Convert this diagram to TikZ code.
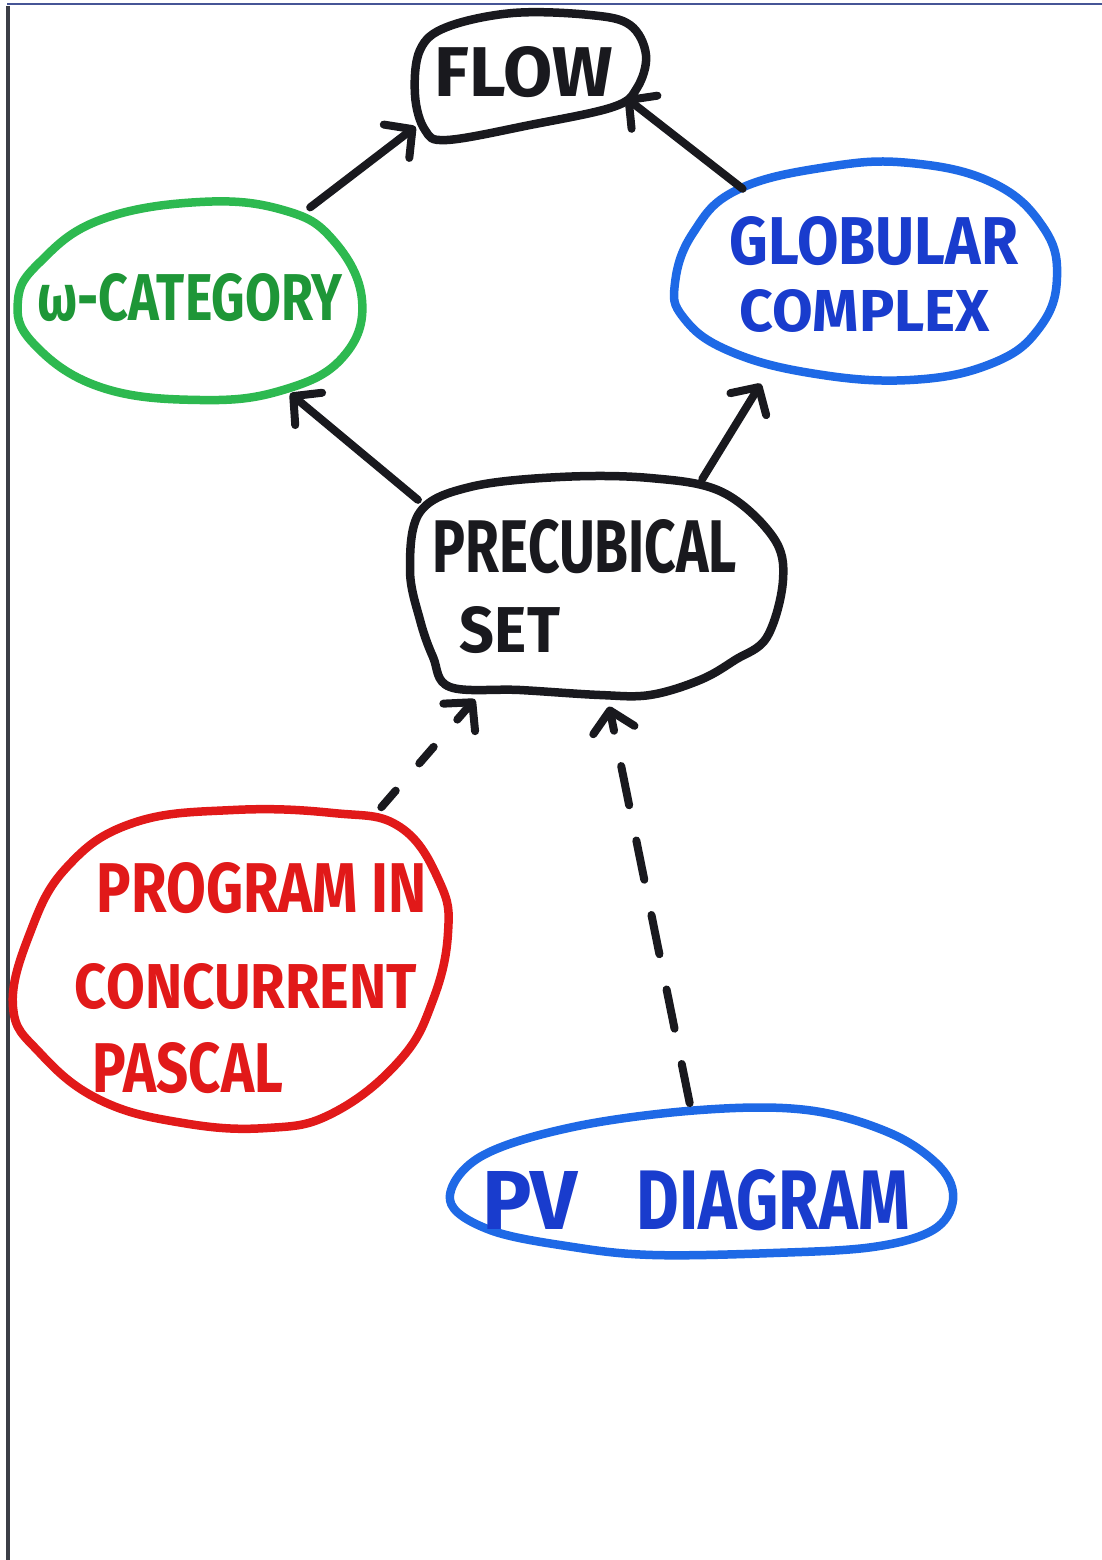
\documentclass[tikz,border=0pt]{standalone}
\usepackage{fontspec}
\setmainfont{Fira Sans}
\usetikzlibrary{arrows.meta,shapes.geometric}
\definecolor{ink}{RGB}{25,25,30}
\definecolor{gline}{RGB}{45,185,80}
\definecolor{gtext}{RGB}{30,150,55}
\definecolor{bline}{RGB}{30,105,230}
\definecolor{btext}{RGB}{25,60,205}
\definecolor{rline}{RGB}{225,25,25}
\definecolor{scanedge}{RGB}{60,62,70}
\definecolor{scantop}{RGB}{70,85,150}
\newcommand{\hw}[3]{\resizebox{#1pt}{#2pt}{\bfseries #3}}
\begin{document}
\begin{tikzpicture}[x=1pt,y=-1pt,
  holder/.style={ellipse,inner sep=0pt,outer sep=0pt,draw=none},
  blob/.style={line width=8.5pt,line join=round},
  lbl/.style={inner sep=0pt,outer sep=0pt},
  arr/.style={ink,line width=8pt,line cap=round,
    -{Straight Barb[length=20pt,width=42pt,round]}},
  dashA/.style={dash pattern=on 22pt off 36pt},
  dashB/.style={dash pattern=on 40pt off 36pt}]
\useasboundingbox (0,0) rectangle (1102,1560);
\fill[white] (0,0) rectangle (1102,1560);
% scan edges
\draw[line width=4pt, scanedge] (7.5,6) -- (7.5,1560);
\draw[line width=2pt, scantop] (7,4) -- (1102,4);

% shape holders (named nodes)
\node[holder, minimum width=232pt, minimum height=126pt] (flow) at (531,77) {};
\node[holder, minimum width=344pt, minimum height=200pt] (omega) at (190,301) {};
\node[holder, minimum width=382pt, minimum height=218pt] (glob) at (866,272) {};
\node[holder, minimum width=376pt, minimum height=212pt] (pre) at (595,586) {};
\node[holder, minimum width=438pt, minimum height=322pt] (prog) at (229,968) {};
\node[holder, minimum width=504pt, minimum height=150pt] (pv) at (701,1182) {};

% outlines
\draw[blob, ink] plot[smooth cycle, tension=0.6] coordinates {
  (420,50) (447,27) (513,13) (590,15) (630,25) (646,55) (637,88)
  (613,107) (530,125) (447,140) (425,130) (415,95)};
\draw[blob, gline] plot[smooth cycle, tension=0.7] coordinates {
  (18,300) (40,262) (100,220) (200,202) (283,210) (333,240) (362,300)
  (343,357) (283,390) (200,400) (100,387) (33,343)};
\draw[blob, bline] plot[smooth cycle, tension=0.7] coordinates {
  (675,283) (693,233) (737,190) (827,167) (910,163) (993,183) (1043,227)
  (1057,277) (1040,327) (993,363) (910,380) (810,373) (727,350) (683,317)};
\draw[blob, ink] plot[smooth cycle, tension=0.6] coordinates {
  (410,570) (420,512) (470,487) (560,477) (650,478) (722,492) (773,537)
  (783,580) (767,637) (735,660) (700,680) (650,695) (600,695) (520,690)
  (450,687) (433,657) (420,620)};
\draw[blob, rline] plot[smooth cycle, tension=0.7] coordinates {
  (233,810) (333,813) (400,827) (440,883) (448,933) (433,1000) (400,1060)
  (333,1113) (267,1128) (183,1123) (100,1100) (40,1053) (13,1007)
  (30,933) (67,867) (133,823)};
\draw[blob, bline] plot[smooth cycle, tension=0.6] coordinates {
  (450,1200) (480,1157) (573,1127) (700,1110) (807,1110) (890,1133)
  (940,1167) (953,1200) (933,1230) (873,1247) (773,1253) (653,1255)
  (573,1247) (490,1230)};

% labels
\node[lbl, ink] (tflow) at (524,72) {\hw{178}{50}{FLOW}};
\node[lbl, gtext] (tomega) at (190,298) {\hw{305}{47}{ω-CATEGORY}};
\node[lbl, btext] (tglob1) at (874,241) {\hw{288}{48}{GLOBULAR}};
\node[lbl, btext] (tglob2) at (865,311) {\hw{250}{42}{COMPLEX}};
\node[lbl, ink] (tpre1) at (585,547) {\hw{304}{53}{PRECUBICAL}};
\node[lbl, ink] (tpre2) at (510,630) {\hw{100}{46}{SET}};
\node[lbl, rline] (tprog1) at (262,888) {\hw{330}{50}{PROGRAM IN}};
\node[lbl, rline] (tprog2) at (246,987) {\hw{342}{45}{CONCURRENT}};
\node[lbl, rline] (tprog3) at (188,1068) {\hw{190}{50}{PASCAL}};
\node[lbl, btext] (tpv) at (696,1200) {\hw{95}{58}{PV}\hspace{59pt}\hw{273}{60}{DIAGRAM}};

% connectors
\draw[arr, shorten <=22pt, shorten >=24pt] (omega.38) -- (flow.200);
\draw[arr, shorten >=-12pt] (glob.146) -- (flow.345);
\draw[arr, shorten <=35pt, shorten >=12pt] (pre.157) -- (omega.317);
\draw[arr, shorten <=19pt, shorten >=20pt] (pre.43) -- (glob.225);
\draw[arr, dashA, shorten <=39pt, shorten >=31pt] (prog.46) -- (pre.222);
\draw[arr, dashB, shorten <=4pt, shorten >=15pt] (pv.98) -- (pre.276);
\end{tikzpicture}
\end{document}
